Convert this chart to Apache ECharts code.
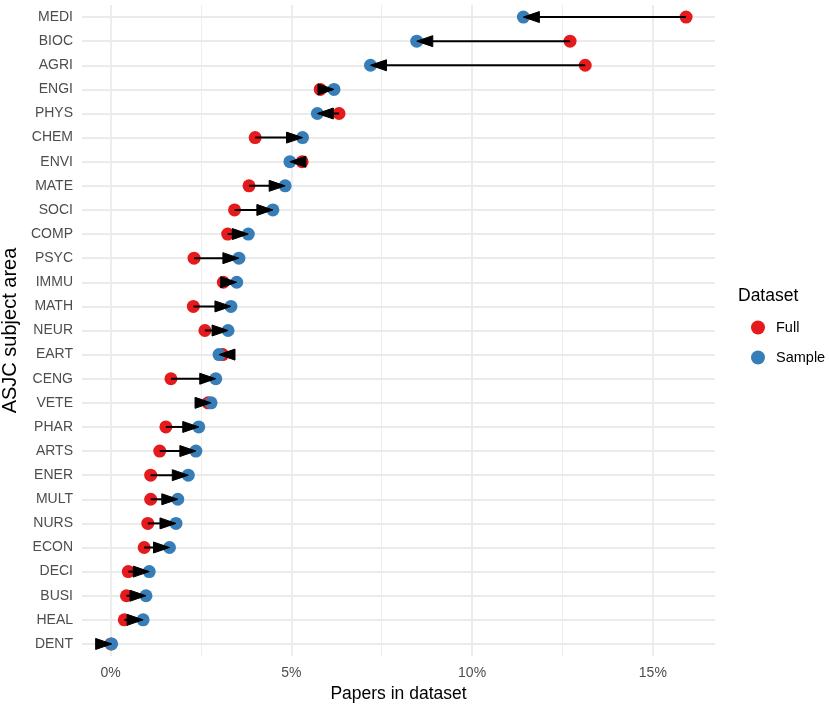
<!DOCTYPE html>
<html>
<head>
<meta charset="utf-8">
<script src="https://cdn.jsdelivr.net/npm/echarts@6/dist/echarts.min.js"></script>
<style>
  html, body { margin: 0; padding: 0; background: #fff; }
  #chart { width: 829px; height: 706px; }
</style>
</head>
<body>
<div id="chart"></div>
<script>
// subject areas, top to bottom
var categories = ['MEDI', 'BIOC', 'AGRI', 'ENGI', 'PHYS', 'CHEM', 'ENVI', 'MATE', 'SOCI',
  'COMP', 'PSYC', 'IMMU', 'MATH', 'NEUR', 'EART', 'CENG', 'VETE', 'PHAR', 'ARTS', 'ENER',
  'MULT', 'NURS', 'ECON', 'DECI', 'BUSI', 'HEAL', 'DENT'];

// share of papers (%) in the full dataset
var fullValues = [15.92, 12.71, 13.13, 5.80, 6.32, 4.00, 5.30, 3.83, 3.43,
  3.24, 2.31, 3.12, 2.29, 2.61, 3.10, 1.67, 2.70, 1.53, 1.36, 1.11,
  1.11, 1.03, 0.93, 0.49, 0.44, 0.38, 0.01];

// share of papers (%) in the sample
var sampleValues = [11.42, 8.47, 7.19, 6.18, 5.72, 5.31, 4.96, 4.83, 4.49,
  3.81, 3.55, 3.49, 3.33, 3.25, 3.00, 2.91, 2.78, 2.44, 2.36, 2.15,
  1.86, 1.81, 1.63, 1.07, 0.98, 0.90, 0.03];

var majorTicks = [0, 5, 10, 15];
var minorTicks = [2.5, 7.5, 12.5];

var RED = '#E41A1C';
var BLUE = '#377EB8';
var FONT = 'Liberation Sans, Arial, sans-serif';

var fullData = fullValues.map(function (v, i) { return [v, i]; });
var sampleData = sampleValues.map(function (v, i) { return [v, i]; });
var arrowData = categories.map(function (c, i) { return [fullValues[i], sampleValues[i], i]; });

// grid lines drawn as markLines so they sit on the category centres
var gridLines = [];
categories.forEach(function (c, i) {
  gridLines.push({ yAxis: i, lineStyle: { width: 1.8 } });
});
majorTicks.forEach(function (v) {
  gridLines.push({ xAxis: v, lineStyle: { width: 1.8 } });
});
minorTicks.forEach(function (v) {
  gridLines.push({ xAxis: v, lineStyle: { width: 0.9 } });
});

// segment from full to sample with a closed head on the sample end
function renderArrow(params, api) {
  var y = api.value(2);
  var p1 = api.coord([api.value(0), y]);
  var p2 = api.coord([api.value(1), y]);
  var dir = p2[0] >= p1[0] ? 1 : -1;
  var headLen = 16;
  var headHalf = 5.5;
  var base = p2[0] - dir * headLen;
  return {
    type: 'group',
    children: [{
      type: 'line',
      shape: { x1: p1[0], y1: p1[1], x2: p2[0] - dir * 4, y2: p2[1] },
      style: { stroke: '#000', lineWidth: 2 }
    }, {
      type: 'polygon',
      shape: { points: [[p2[0], p2[1]], [base, p2[1] - headHalf], [base, p2[1] + headHalf]] },
      style: { fill: '#000', stroke: '#000', lineWidth: 1 }
    }]
  };
}

var chart = echarts.init(document.getElementById('chart'));
chart.setOption({
  animation: false,
  textStyle: { fontFamily: FONT },
  title: {
    text: 'Dataset',
    left: 738,
    top: 287,
    padding: 0,
    textStyle: { fontFamily: FONT, fontSize: 17.5, fontWeight: 'normal', color: '#000' }
  },
  legend: {
    orient: 'vertical',
    left: 751,
    top: 320,
    padding: 0,
    itemWidth: 14,
    itemHeight: 14,
    itemGap: 15,
    icon: 'circle',
    data: ['Full', 'Sample'],
    textStyle: { fontFamily: FONT, fontSize: 14.5, color: '#000', padding: [0, 0, 0, 6] }
  },
  grid: { left: 82, right: 114, top: 5, bottom: 50, containLabel: false, outerBoundsMode: 'none' },
  xAxis: {
    type: 'value',
    min: -0.79,
    max: 16.72,
    splitNumber: 3,
    name: 'Papers in dataset',
    nameLocation: 'middle',
    nameGap: 29,
    nameTextStyle: { fontFamily: FONT, fontSize: 17.5, color: '#000' },
    axisLine: { show: false },
    axisTick: { show: false },
    splitLine: { show: false },
    axisLabel: {
      margin: 10,
      fontSize: 14,
      color: '#4D4D4D',
      showMinLabel: false,
      showMaxLabel: false,
      formatter: function (v) {
        var k = Math.round(v / 5);
        return Math.abs(v - k * 5) < 1e-6 ? (k * 5) + '%' : '';
      }
    }
  },
  yAxis: {
    type: 'category',
    data: categories,
    inverse: true,
    name: 'ASJC subject area',
    nameLocation: 'middle',
    nameGap: 59,
    nameRotate: 90,
    nameTextStyle: { fontFamily: FONT, fontSize: 20, color: '#000' },
    axisLine: { show: false },
    axisTick: { show: false },
    splitLine: { show: false },
    axisLabel: { margin: 9, fontSize: 14, color: '#4D4D4D' }
  },
  series: [{
    name: 'Full',
    type: 'scatter',
    z: 2,
    symbolSize: 13,
    itemStyle: { color: RED, opacity: 1 },
    data: fullData,
    markLine: {
      silent: true,
      z: 1,
      symbol: 'none',
      label: { show: false },
      lineStyle: { color: '#EBEBEB', type: 'solid' },
      data: gridLines
    }
  }, {
    name: 'Sample',
    type: 'scatter',
    z: 3,
    symbolSize: 13,
    itemStyle: { color: BLUE, opacity: 1 },
    data: sampleData
  }, {
    name: 'arrows',
    type: 'custom',
    z: 4,
    silent: true,
    renderItem: renderArrow,
    encode: { x: [0, 1], y: 2 },
    data: arrowData
  }]
});
</script>
</body>
</html>
